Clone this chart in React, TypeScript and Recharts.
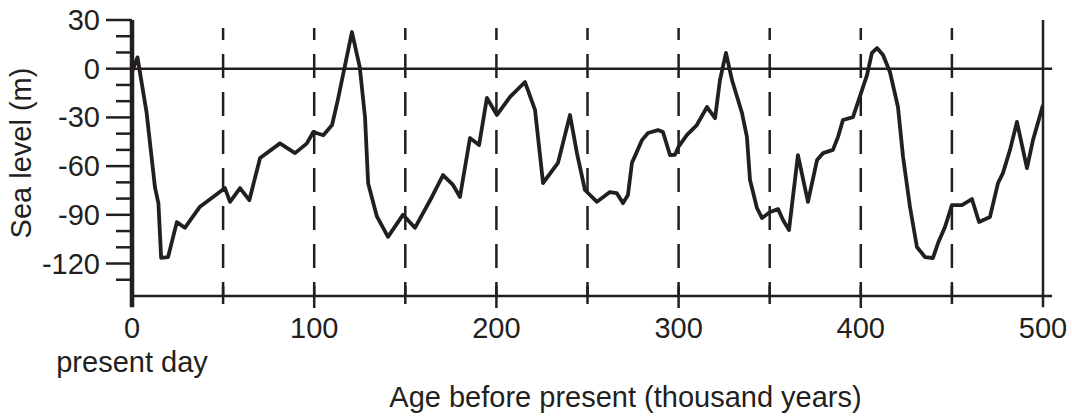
import React from 'react';
import { LineChart, Line, XAxis, YAxis, ReferenceLine } from 'recharts';

// Age before present (thousand years)
const ages = [
  0, 3, 8, 12.6, 14.5, 16, 19.8, 24.6, 29, 37.3, 44.5, 51, 53.8, 59.3, 64.4, 70.3, 81.2, 89.5, 96, 99.5,
  105, 109.8, 113, 120.7, 125, 127.9, 129.6, 134.4, 140.5, 148.7, 155.3, 164.6, 170.7, 176.2, 180, 185.5,
  190.5, 194.8, 200.3, 207.5, 215.7, 221.2, 225.6, 233.8, 240.4, 244.2, 248.6, 255.2, 262.3, 266, 269.5,
  272.2, 274.4, 279.9, 283.2, 288.7, 291.4, 295.3, 298, 299.9, 304.6, 310, 315.6, 320, 322.7, 326, 329.3,
  334.8, 337.5, 339.2, 343, 345.8, 350.2, 354.6, 357.3, 360.6, 365.5, 371, 376, 379.3, 384.7, 387.5, 390.2,
  395.7, 400.7, 403.4, 406.1, 408.9, 412.2, 416, 420.4, 423.2, 427, 430.8, 435.2, 439.6, 442.4, 446.2, 450,
  455.5, 461, 464.9, 470.9, 475.3, 478, 481.9, 485.7, 491.2, 494.5, 500,
];

// Sea level (m)
const seaLevels = [
  -2, 7, -27, -73, -83, -116.5, -116, -94.5, -98, -85, -79, -73.5, -82, -73.5, -81, -55, -46, -52, -46, -39,
  -41, -34.7, -19, 22.6, 1, -30, -70.5, -91, -103.6, -90, -98, -79, -65.5, -71.6, -79, -42.7,
  -47, -18, -28.5, -17.4, -8.2, -25.4, -70.4, -58, -28.5, -52, -74.7, -82, -76, -76.6, -82.8,
  -77.8, -58, -44, -39.6, -37.8, -39, -53.2, -53, -48.2, -40.8, -34.7, -23.6, -30.5, -7, 9.7, -7,
  -27.3, -42, -68.6, -85.8, -92, -88.3, -86.5, -93.2, -99.4, -53.2, -82, -56.2, -52, -50, -42, -31.6,
  -29.8, -13, -4, 9.7, 12.7, 8.4, -2, -23.6, -54.4, -85.2, -109.8, -116, -116.6, -107.4, -97.5, -84,
  -84, -80.3, -94.4, -91.3, -70.5, -64.3, -50, -32.8, -61.2, -44, -22.4,
];

const xTicks = [0, 50, 100, 150, 200, 250, 300, 350, 400, 450, 500];
const xTickLabels = ['0', '100', '200', '300', '400', '500'];
const dashedAges = [50, 100, 150, 200, 250, 300, 350, 400, 450];
const yTicks = [30, 20, 10, 0, -10, -20, -30, -40, -50, -60, -70, -80, -90, -100, -110, -120, -130];
const yTickLabels = ['30', '0', '-30', '-60', '-90', '-120'];

const INK = '#231f20';
const FONT = '"Liberation Sans", Arial, Helvetica, sans-serif';
const FS = 29;

const data = ages.map((a, i) => ({ age: a, level: seaLevels[i] }));

function XTick(props: any) {
  const { x, y, payload } = props;
  const v = payload.value;
  const major = v % 100 === 0;
  const label = xTickLabels.find((l) => Number(l) === v);
  return (
    <g>
      {v !== 0 && v !== 500 && (
        <line x1={x} x2={x} y1={y - 10} y2={y + (major ? 12 : 8)} stroke={INK} strokeWidth={2.5} />
      )}
      {label !== undefined && (
        <text x={x} y={y + 42} textAnchor="middle" fill={INK} fontFamily={FONT} fontSize={FS}>
          {label}
        </text>
      )}
      {v === 0 && (
        <text x={x} y={y + 76} textAnchor="middle" fill={INK} fontFamily={FONT} fontSize={FS}>
          present day
        </text>
      )}
    </g>
  );
}

function YTick(props: any) {
  const { x, y, payload } = props;
  const v = payload.value;
  const label = yTickLabels.find((l) => Number(l) === v);
  const major = label !== undefined;
  return (
    <g>
      <line x1={x - (major ? 26 : 16)} x2={x} y1={y} y2={y} stroke={INK} strokeWidth={2.5} />
      {major && (
        <text x={x - 32} y={y + 10} textAnchor="end" fill={INK} fontFamily={FONT} fontSize={FS}>
          {label}
        </text>
      )}
    </g>
  );
}

export default function App() {
  return (
    <div style={{ position: 'absolute', left: 0, top: 0, width: 1072, height: 417, background: '#fff' }}>
      <LineChart width={1072} height={417} data={data} margin={{ top: 20, right: 29, bottom: 0, left: 0 }}>
        <XAxis
          dataKey="age"
          type="number"
          domain={[0, 500]}
          ticks={xTicks}
          interval={0}
          allowDataOverflow
          axisLine={false}
          tickLine={false}
          tickSize={0}
          tickMargin={0}
          height={121}
          tick={<XTick />}
          label={{
            content: (p: any) => {
              const vb = p.viewBox;
              return (
                <text
                  x={vb.x + vb.width / 2 + 38}
                  y={vb.y + 111}
                  textAnchor="middle"
                  fill={INK}
                  fontFamily={FONT}
                  fontSize={FS}
                >
                  Age before present (thousand years)
                </text>
              );
            },
          }}
        />
        <YAxis
          type="number"
          domain={[-140, 30]}
          ticks={yTicks}
          interval={0}
          allowDataOverflow
          axisLine={false}
          tickLine={false}
          tickSize={0}
          tickMargin={0}
          width={132}
          tick={<YTick />}
          label={{
            content: (p: any) => {
              const vb = p.viewBox;
              const cx = vb.x + 31;
              const cy = vb.y + vb.height / 2 - 5;
              return (
                <text
                  x={cx}
                  y={cy}
                  transform={`rotate(-90, ${cx}, ${cy})`}
                  textAnchor="middle"
                  fill={INK}
                  fontFamily={FONT}
                  fontSize={FS}
                >
                  Sea level (m)
                </text>
              );
            },
          }}
        />
        {dashedAges.map((a) => (
          <ReferenceLine
            key={a}
            segment={[{ x: a, y: 25 }, { x: a, y: -140 }]}
            stroke={INK}
            strokeWidth={2.5}
            strokeDasharray="24 14"
            strokeDashoffset={12}
            ifOverflow="visible"
          />
        ))}
        <ReferenceLine segment={[{ x: 0, y: 0 }, { x: 505, y: 0 }]} stroke={INK} strokeWidth={2.5} ifOverflow="visible" />
        <ReferenceLine segment={[{ x: 0, y: -140 }, { x: 505, y: -140 }]} stroke={INK} strokeWidth={2.5} ifOverflow="visible" />
        <ReferenceLine segment={[{ x: 500, y: 30 }, { x: 500, y: -147 }]} stroke={INK} strokeWidth={2.5} ifOverflow="visible" />
        <ReferenceLine segment={[{ x: 0, y: 30 }, { x: 0, y: -147 }]} stroke={INK} strokeWidth={4.5} ifOverflow="visible" />
        <Line
          dataKey="level"
          type="linear"
          stroke={INK}
          strokeWidth={3.8}
          strokeLinejoin="round"
          dot={false}
          activeDot={false}
          isAnimationActive={false}
        />
      </LineChart>
    </div>
  );
}
